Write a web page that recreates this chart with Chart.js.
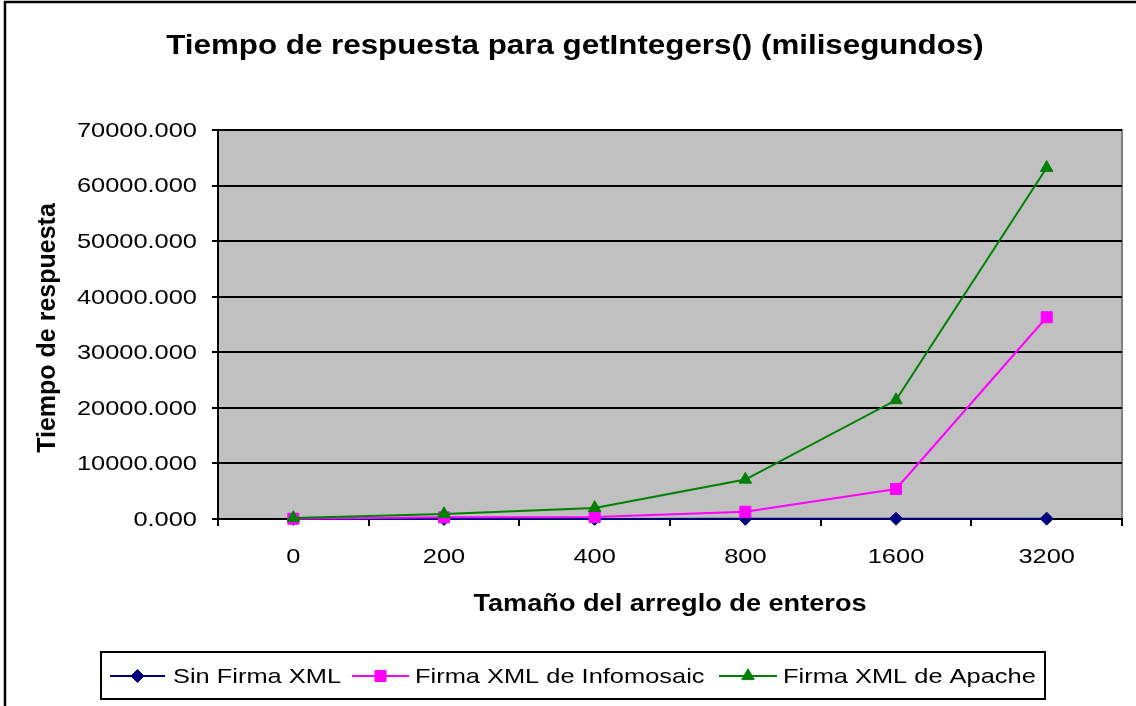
<!DOCTYPE html>
<html><head><meta charset="utf-8">
<script src="https://cdn.jsdelivr.net/npm/chart.js@4/dist/chart.umd.min.js"></script>
<style>html,body{margin:0;padding:0;background:#fff;overflow:hidden}#wrap{width:1136px;height:706px;position:relative}canvas{display:block}</style>
</head><body><div id="wrap"><canvas id="c" width="1136" height="706"></canvas></div>
<script>
// ---- data ----
const categories = ['0', '200', '400', '800', '1600', '3200'];
const sinFirma = [10, 15, 20, 30, 45, 60];
const infomosaic = [50, 300, 350, 1300, 5400, 36300];
const apache = [200, 900, 2000, 7100, 21400, 63200];
const seriesLabels = ['Sin Firma XML', 'Firma XML de Infomosaic', 'Firma XML de Apache'];
const yTickValues = [0, 10000, 20000, 30000, 40000, 50000, 60000, 70000];
const chartTitle = 'Tiempo de respuesta para getIntegers() (milisegundos)';
const xAxisTitle = 'Tamaño del arreglo de enteros';
const yAxisTitle = 'Tiempo de respuesta';

// ---- styles ----
const FONT = '"Liberation Sans", Arial, sans-serif';
const SX = 1.21; // horizontal stretch of the original picture's text
const colors = ['#000080', '#FF00FF', '#008000'];
const pointStyles = ['rectRot', 'rect', 'triangle'];
const pointRadii = [6.5, 7.8, 7.2];

function stretchedText(ctx, text, x, y, font, align, baseline, sx) {
  ctx.save();
  ctx.font = font;
  ctx.fillStyle = '#000';
  ctx.textAlign = align;
  ctx.textBaseline = baseline;
  ctx.translate(x, y);
  ctx.scale(sx || SX, 1);
  ctx.fillText(text, 0, 0);
  ctx.restore();
}

const decorPlugin = {
  id: 'decor',
  beforeDraw(chart) {
    const ctx = chart.ctx, a = chart.chartArea;
    ctx.save();
    ctx.fillStyle = '#fff';
    ctx.fillRect(0, 0, chart.width, chart.height);
    ctx.strokeStyle = '#000';
    ctx.lineWidth = 2.5;
    ctx.strokeRect(5, 2, chart.width + 20, chart.height + 20);
    ctx.fillStyle = '#C0C0C0';
    ctx.fillRect(a.left, a.top, a.right - a.left, a.bottom - a.top);
    ctx.strokeStyle = '#808080';
    ctx.lineWidth = 2;
    ctx.strokeRect(a.left, a.top, a.right - a.left, a.bottom - a.top);
    ctx.restore();
  },
  afterDraw(chart) {
    const ctx = chart.ctx, a = chart.chartArea;
    const xs = chart.scales.x, ys = chart.scales.y;
    stretchedText(ctx, chartTitle, 575, 47, 'bold 27px ' + FONT, 'center', 'middle', 1.16);
    ys.ticks.forEach((t, i) => {
      stretchedText(ctx, t.value.toFixed(3), 197, ys.getPixelForTick(i) + 1, '21px ' + FONT, 'right', 'middle');
    });
    xs.ticks.forEach((t, i) => {
      stretchedText(ctx, categories[i], xs.getPixelForTick(i), 557, '21px ' + FONT, 'center', 'middle');
    });
    stretchedText(ctx, xAxisTitle, (a.left + a.right) / 2, 605, 'bold 23px ' + FONT, 'center', 'middle', 1.18);
    ctx.save();
    ctx.font = 'bold 25px ' + FONT;
    ctx.fillStyle = '#000';
    ctx.textAlign = 'center';
    ctx.textBaseline = 'middle';
    ctx.translate(48, 328);
    ctx.scale(1.05, 1);
    ctx.rotate(-Math.PI / 2);
    ctx.fillText(yAxisTitle, 0, 0);
    ctx.restore();
    // legend
    ctx.save();
    ctx.strokeStyle = '#000';
    ctx.lineWidth = 2;
    ctx.strokeRect(101, 652, 944, 47);
    ctx.restore();
    const lineX = [[110, 165], [352, 409], [719, 777]];
    const textX = [173, 415, 783];
    const ly = 676;
    chart.data.datasets.forEach((ds, i) => {
      const [x0, x1] = lineX[i];
      ctx.save();
      ctx.strokeStyle = ds.borderColor;
      ctx.lineWidth = 2;
      ctx.beginPath();
      ctx.moveTo(x0, ly); ctx.lineTo(x1, ly);
      ctx.stroke();
      ctx.fillStyle = ds.borderColor;
      ctx.strokeStyle = ds.borderColor;
      ctx.lineWidth = 1;
      Chart.helpers.drawPoint(ctx, {pointStyle: ds.pointStyle, rotation: 0, borderWidth: 1, radius: pointRadii[i]}, (x0 + x1) / 2, ly);
      ctx.restore();
      stretchedText(ctx, ds.label, textX[i], ly + 1, '21px ' + FONT, 'left', 'middle');
    });
  }
};

const datasets = [sinFirma, infomosaic, apache].map((vals, i) => ({
  label: seriesLabels[i],
  data: vals,
  borderColor: colors[i],
  backgroundColor: colors[i],
  pointBackgroundColor: colors[i],
  pointBorderColor: colors[i],
  pointBorderWidth: 1,
  pointStyle: pointStyles[i],
  pointRadius: pointRadii[i],
  borderWidth: 2,
  tension: 0,
  clip: false,
  order: 3 - i
}));

new Chart(document.getElementById('c'), {
  type: 'line',
  data: {labels: categories, datasets},
  options: {
    responsive: false,
    animation: false,
    devicePixelRatio: 1,
    layout: {padding: {top: 130, right: 14, left: 0, bottom: 0}},
    plugins: {legend: {display: false}, title: {display: false}, tooltip: {enabled: false}},
    scales: {
      x: {
        type: 'category',
        offset: true,
        grid: {offset: true, drawOnChartArea: false, drawTicks: true, tickLength: 7, color: '#000', lineWidth: 2},
        border: {color: '#000', width: 2},
        ticks: {display: false},
        afterFit(s) { s.height = 706 - 519; }
      },
      y: {
        min: 0, max: 70000,
        afterBuildTicks(s) { s.ticks = yTickValues.map(v => ({value: v})); },
        grid: {color: '#000', lineWidth: 2, drawTicks: true, tickLength: 6},
        border: {color: '#000', width: 2},
        ticks: {display: false},
        afterFit(s) { s.width = 218; }
      }
    }
  },
  plugins: [decorPlugin]
});
</script>
</body></html>
